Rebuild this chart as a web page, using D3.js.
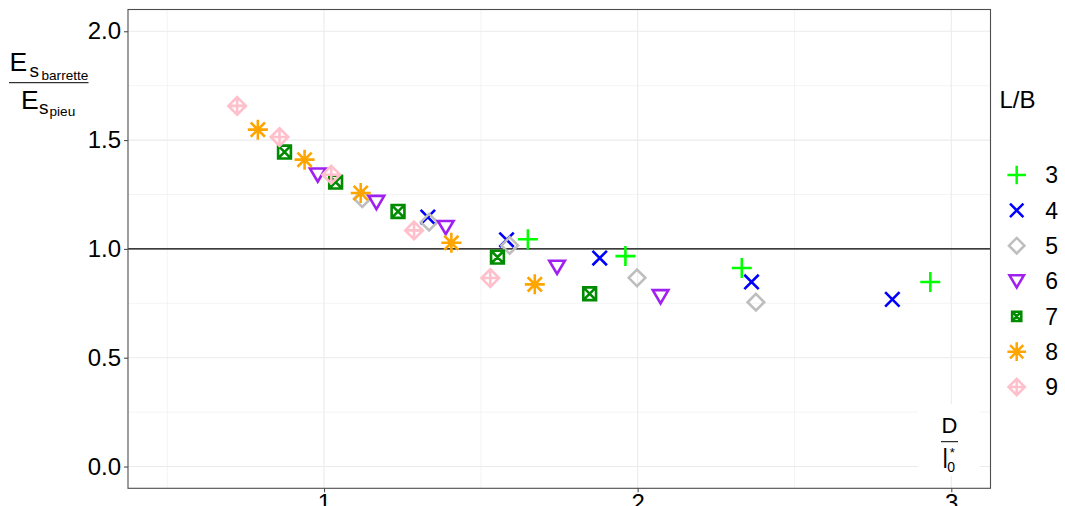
<!DOCTYPE html>
<html>
<head>
<meta charset="utf-8">
<script src="https://cdn.jsdelivr.net/npm/d3@7"></script>
<style>
  html, body { margin: 0; padding: 0; background: #fff; }
  svg { display: block; }
  text { font-family: "Liberation Sans", Arial, Helvetica, sans-serif; fill: #000; }
</style>
</head>
<body>
<script>
// ---------------- data ----------------
const lbLevels = ["3", "4", "5", "6", "7", "8", "9"];
const x3 = [1.650, 1.961, 2.332, 2.933];
const y3 = [1.044, 0.967, 0.912, 0.848];
const x4 = [1.331, 1.582, 1.879, 2.363, 2.812];
const y4 = [1.146, 1.042, 0.958, 0.848, 0.768];
const x5 = [1.122, 1.335, 1.592, 1.998, 2.377];
const y5 = [1.231, 1.123, 1.016, 0.867, 0.755];
const x6 = [0.980, 1.167, 1.388, 1.743, 2.073];
const y6 = [1.341, 1.215, 1.100, 0.917, 0.782];
const x7 = [0.874, 1.037, 1.236, 1.553, 1.847];
const y7 = [1.445, 1.307, 1.172, 0.962, 0.794];
const x8 = [0.789, 0.938, 1.117, 1.406, 1.672];
const y8 = [1.548, 1.410, 1.257, 1.028, 0.837];
const x9 = [0.723, 0.858, 1.023, 1.287, 1.530];
const y9 = [1.657, 1.514, 1.341, 1.085, 0.866];
const xTicks = [1, 2, 3];
const yTicks = [0, 0.5, 1, 1.5, 2];
const yTickLabels = ["0.0", "0.5", "1.0", "1.5", "2.0"];
const xMinor = [0.5, 1.5, 2.5];
const yMinor = [0.25, 0.75, 1.25, 1.75];
const refLine = 1;

const seriesX = [x3, x4, x5, x6, x7, x8, x9];
const seriesY = [y3, y4, y5, y6, y7, y8, y9];
const colors = ["#00FF00", "#0000FF", "#BEBEBE", "#A020F0", "#008B00", "#FFA500", "#FFC0CB"];
const shapes = ["plus", "cross", "diamond", "triDown", "boxX", "asterisk", "diamondPlus"];

// ---------------- layout ----------------
const W = 1065, H = 506;
const P = { left: 128, right: 990.5, top: 9.5, bottom: 488.3 };
const x = d3.scaleLinear().domain([0.375, 3.125]).range([P.left, P.right]);
const y = d3.scaleLinear().domain([-0.1, 2.1]).range([P.bottom, P.top]);

const svg = d3.select("body").append("svg").attr("width", W).attr("height", H);

// symbol paths
function shapePath(type, k) {
  k = k || 1;
  const p = d3.path();
  if (type === "plus") {
    const r = 10 * k;
    p.moveTo(-r, 0); p.lineTo(r, 0); p.moveTo(0, -r); p.lineTo(0, r);
  } else if (type === "cross") {
    const r = 7.2 * k;
    p.moveTo(-r, -r); p.lineTo(r, r); p.moveTo(-r, r); p.lineTo(r, -r);
  } else if (type === "diamond") {
    const r = 8.3 * k;
    p.moveTo(0, -r); p.lineTo(r, 0); p.lineTo(0, r); p.lineTo(-r, 0); p.closePath();
  } else if (type === "triDown") {
    const s = 7.8 * k;
    p.moveTo(-s, -6.2 * k); p.lineTo(s, -6.2 * k); p.lineTo(0, 7 * k); p.closePath();
  } else if (type === "boxX") {
    const r = 6.4 * k;
    p.rect(-r, -r, 2 * r, 2 * r);
    p.moveTo(-r, -r); p.lineTo(r, r); p.moveTo(-r, r); p.lineTo(r, -r);
  } else if (type === "asterisk") {
    const r = 10 * k, c = 7.1 * k;
    p.moveTo(-r, 0); p.lineTo(r, 0); p.moveTo(0, -r); p.lineTo(0, r);
    p.moveTo(-c, -c); p.lineTo(c, c); p.moveTo(-c, c); p.lineTo(c, -c);
  } else if (type === "diamondPlus") {
    const r = 8.8 * k;
    p.moveTo(0, -r); p.lineTo(r, 0); p.lineTo(0, r); p.lineTo(-r, 0); p.closePath();
    p.moveTo(-r, 0); p.lineTo(r, 0); p.moveTo(0, -r); p.lineTo(0, r);
  }
  return p.toString();
}

// ---------------- grid ----------------
const grid = svg.append("g");
grid.selectAll(".xminor").data(xMinor).join("line")
  .attr("x1", d => x(d)).attr("x2", d => x(d)).attr("y1", P.top).attr("y2", P.bottom)
  .attr("stroke", "#EBEBEB").attr("stroke-width", 0.55);
grid.selectAll(".yminor").data(yMinor).join("line")
  .attr("y1", d => y(d)).attr("y2", d => y(d)).attr("x1", P.left).attr("x2", P.right)
  .attr("stroke", "#EBEBEB").attr("stroke-width", 0.55);
grid.selectAll(".xmajor").data(xTicks).join("line")
  .attr("x1", d => x(d)).attr("x2", d => x(d)).attr("y1", P.top).attr("y2", P.bottom)
  .attr("stroke", "#EBEBEB").attr("stroke-width", 1.1);
grid.selectAll(".ymajor").data(yTicks).join("line")
  .attr("y1", d => y(d)).attr("y2", d => y(d)).attr("x1", P.left).attr("x2", P.right)
  .attr("stroke", "#EBEBEB").attr("stroke-width", 1.1);

// x title box (inside panel, white background)
const xt = svg.append("g");
xt.append("rect").attr("x", 918).attr("y", 404).attr("width", 62).attr("height", 72).attr("fill", "#fff");
xt.append("text").attr("x", 949.5).attr("y", 433.3).attr("text-anchor", "middle")
  .style("font-size", "22px").text("D");
xt.append("line").attr("x1", 941).attr("x2", 958).attr("y1", 441.7).attr("y2", 441.7)
  .attr("stroke", "#000").attr("stroke-width", 1);
xt.append("text").attr("transform", "translate(942.8,468) scale(1,1.22)")
  .style("font-size", "22px").text("l");
xt.append("text").attr("x", 947.3).attr("y", 471.8).style("font-size", "14px").text("0");
xt.append("text").attr("x", 949.8).attr("y", 457).style("font-size", "13px").text("*");

// reference line
svg.append("line")
  .attr("x1", P.left).attr("x2", P.right).attr("y1", y(refLine)).attr("y2", y(refLine))
  .attr("stroke", "#000").attr("stroke-width", 1.4);

// ---------------- points ----------------
const pts = svg.append("g");
lbLevels.forEach((lvl, i) => {
  const data = seriesX[i].map((v, j) => ({ x: v, y: seriesY[i][j] }));
  pts.append("g").selectAll("path").data(data).join("path")
    .attr("transform", d => `translate(${x(d.x)},${y(d.y)})`)
    .attr("d", shapePath(shapes[i]))
    .attr("fill", "none")
    .attr("stroke", colors[i])
    .attr("stroke-width", 2.6)
    .attr("stroke-linejoin", "miter");
});

// ---------------- panel border ----------------
svg.append("rect")
  .attr("x", P.left).attr("y", P.top).attr("width", P.right - P.left).attr("height", P.bottom - P.top)
  .attr("fill", "none").attr("stroke", "#4d4d4d").attr("stroke-width", 1.1);

// ---------------- axes ----------------
const yAxis = d3.axisLeft(y).tickValues(yTicks).tickSize(4).tickPadding(3)
  .tickFormat((d, i) => yTickLabels[i]);
const gy = svg.append("g").attr("transform", `translate(${P.left},0)`).call(yAxis);
gy.select(".domain").remove();
gy.selectAll(".tick line").attr("stroke", "#4d4d4d").attr("stroke-width", 1.1);
gy.selectAll(".tick text").style("font-size", "24px").attr("fill", "#000")
  .style("font-family", '"Liberation Sans", Arial, sans-serif');

const xAxis = d3.axisBottom(x).tickValues(xTicks).tickSize(4).tickPadding(2)
  .tickFormat(d3.format("d"));
const gx = svg.append("g").attr("transform", `translate(0,${P.bottom})`).call(xAxis);
gx.select(".domain").remove();
gx.selectAll(".tick line").attr("stroke", "#4d4d4d").attr("stroke-width", 1.1);
gx.selectAll(".tick text").style("font-size", "24px").attr("fill", "#000")
  .style("font-family", '"Liberation Sans", Arial, sans-serif');

// ---------------- y title (fraction) ----------------
const yt = svg.append("g");
yt.append("text").attr("x", 9.5).attr("y", 71).style("font-size", "26.5px").text("E");
yt.append("text").attr("x", 29.5).attr("y", 76.5).style("font-size", "19px").text("s");
yt.append("text").attr("x", 41.5).attr("y", 79.5).style("font-size", "13.6px").text("barrette");
yt.append("line").attr("x1", 9).attr("x2", 88.5).attr("y1", 82.7).attr("y2", 82.7)
  .attr("stroke", "#000").attr("stroke-width", 1);
yt.append("text").attr("x", 21).attr("y", 108.5).style("font-size", "26.5px").text("E");
yt.append("text").attr("x", 39).attr("y", 113.5).style("font-size", "19px").text("s");
yt.append("text").attr("x", 49.5).attr("y", 116).style("font-size", "13.6px").text("pieu");

// ---------------- legend ----------------
const lg = svg.append("g");
lg.append("text").attr("x", 999.5).attr("y", 108).style("font-size", "24px").text("L/B");
const keyY = d3.scalePoint().domain(lbLevels).range([175, 387]);
const keys = lg.selectAll(".key").data(lbLevels).join("g")
  .attr("transform", d => `translate(1016.7,${keyY(d)})`);
keys.append("path")
  .attr("d", (d, i) => shapePath(shapes[i], shapes[i] === "boxX" ? 0.72 : 0.93))
  .attr("fill", "none")
  .attr("stroke", (d, i) => colors[i])
  .attr("stroke-width", 2.5);
keys.append("text").attr("x", 28.5).attr("y", 8.3).style("font-size", "23px").text(d => d);
</script>
</body>
</html>
